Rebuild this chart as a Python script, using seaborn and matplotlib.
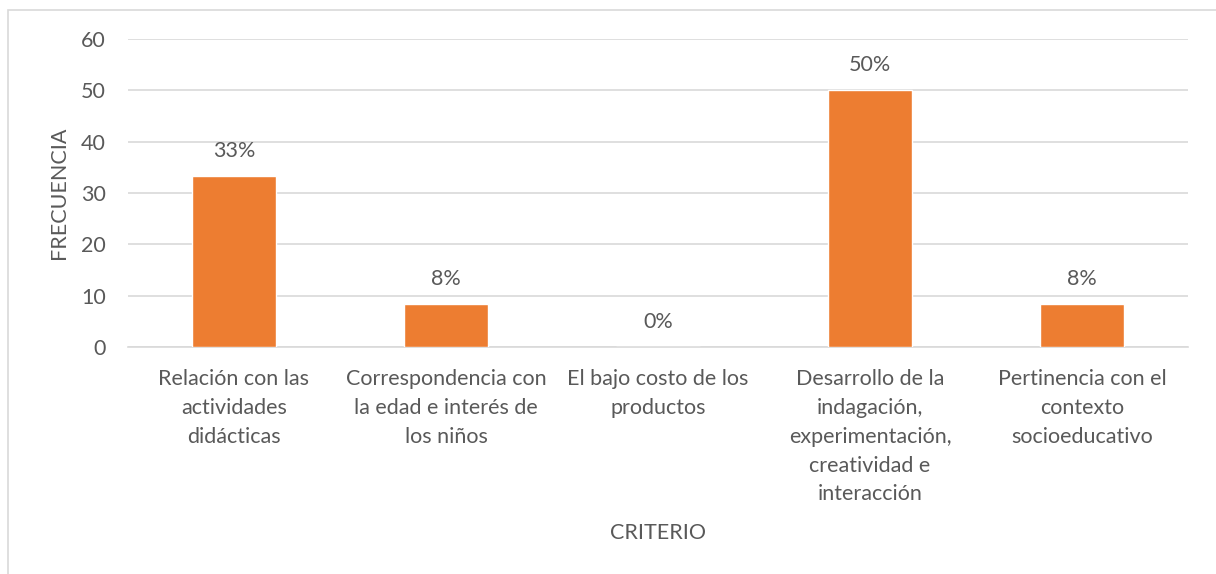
import pandas as pd
import seaborn as sns
import matplotlib.pyplot as plt
from matplotlib.patches import Rectangle

# Datos del gráfico
criterios = [
    "Relación con las\nactividades\ndidácticas",
    "Correspondencia con\nla edad e interés de\nlos niños",
    "El bajo costo de los\nproductos",
    "Desarrollo de la\nindagación,\nexperimentación,\ncreatividad e\ninteracción",
    "Pertinencia con el\ncontexto\nsocioeducativo",
]
frecuencia = [33.33, 8.33, 0, 50, 8.33]
etiquetas = ["33%", "8%", "0%", "50%", "8%"]

df = pd.DataFrame({"criterio": criterios, "frecuencia": frecuencia})

sns.set_theme(style="white")
plt.rcParams['font.family'] = ['Lato', 'DejaVu Sans']

gris = "#595959"
fs = 15.5
fig = plt.figure(figsize=(12.16, 5.74), dpi=100)
ax = fig.add_axes([128 / 1216, 1 - 347 / 574, 1060 / 1216, 308 / 574])

sns.barplot(data=df, x="criterio", y="frecuencia", color="#ED7D31",
            width=0.4, saturation=1, ax=ax, zorder=3)

ax.bar_label(ax.containers[0], labels=etiquetas, padding=11,
             fontsize=fs, color=gris)

ax.set_ylim(0, 60)
ax.set_yticks(range(0, 61, 10))
ax.set_xlim(-0.5, 4.5)
ax.yaxis.grid(True, color="#D9D9D9", linewidth=1.2, zorder=0)
for s in ["top", "right", "left"]:
    ax.spines[s].set_visible(False)
ax.spines["bottom"].set_color("#D9D9D9")
ax.spines["bottom"].set_linewidth(1.2)
ax.tick_params(axis="both", length=0, labelsize=fs, labelcolor=gris)
ax.tick_params(axis="y", pad=16)
ax.tick_params(axis="x", pad=16)
ax.set_xticks(range(len(criterios)))
ax.set_xticklabels(criterios, linespacing=1.55)

ax.set_xlabel("CRITERIO", fontsize=fs, color=gris)
ax.xaxis.set_label_coords(0.5, -(533 - 347) / 308)
ax.xaxis.label.set_va("center")
ax.set_ylabel("FRECUENCIA", fontsize=fs, color=gris)
ax.yaxis.set_label_coords((59 - 128) / 1060, 0.5)
ax.yaxis.label.set_va("center")

# marco exterior del gráfico
fig.patches.append(Rectangle((8 / 1216, -0.1), 1.2, 1 - 10 / 574 + 0.1,
                             transform=fig.transFigure, fill=False,
                             edgecolor="#D9D9D9", linewidth=1.2))

fig.savefig("out.png", dpi=100)
